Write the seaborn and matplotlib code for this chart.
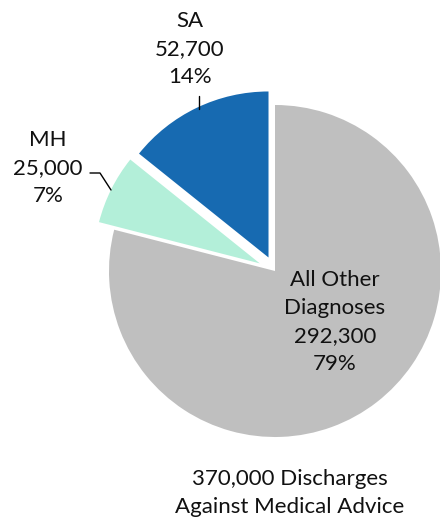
import matplotlib
matplotlib.use("Agg")
import matplotlib.pyplot as plt
import seaborn as sns

sns.set_theme(style="white")
plt.rcParams['font.family'] = ['Lato', 'DejaVu Sans']

categories = ["SA", "MH", "All Other\nDiagnoses"]
values = [52700, 25000, 292300]
percents = ["14%", "7%", "79%"]
colors = ["#176AB1", "#B3EFD9", "#BFBFBF"]
explode = [15, 17, 0]  # offsets in pixel units (axes units = pixels)
caption = "370,000 Discharges\nAgainst Medical Advice"

fig = plt.figure(figsize=(4.40, 5.29), dpi=100)
ax = fig.add_axes([0, 0, 1, 1])
H = 529
ax.pie(values, colors=colors, startangle=90, counterclock=True,
       explode=explode, radius=166, center=(275, H - 271),
       wedgeprops=dict(linewidth=0), frame=True)
ax.set_xlim(0, 440)
ax.set_ylim(0, H)
ax.set_aspect('equal')
ax.axis('off')

fs = 16
ls = 1.5
def lab(i):
    return f"{categories[i]}\n{values[i]:,}\n{percents[i]}"

ax.text(190, H - 49, lab(0), ha='center', va='center', fontsize=fs,
        linespacing=ls, color='#111111')
ax.plot([199, 199], [H - 96, H - 109], color='black', lw=1)
ax.text(48, H - 168, lab(1), ha='center', va='center', fontsize=fs,
        linespacing=ls, color='#111111')
ax.plot([90, 100, 111], [H - 173, H - 173, H - 190], color='black', lw=1)
ax.text(335, H - 322, lab(2), ha='center', va='center', fontsize=fs,
        linespacing=ls, color='#111111')
ax.text(290, H - 493, caption, ha='center', va='center', fontsize=fs,
        linespacing=ls, color='#111111')

fig.savefig("out.png", dpi=100, facecolor='white')
